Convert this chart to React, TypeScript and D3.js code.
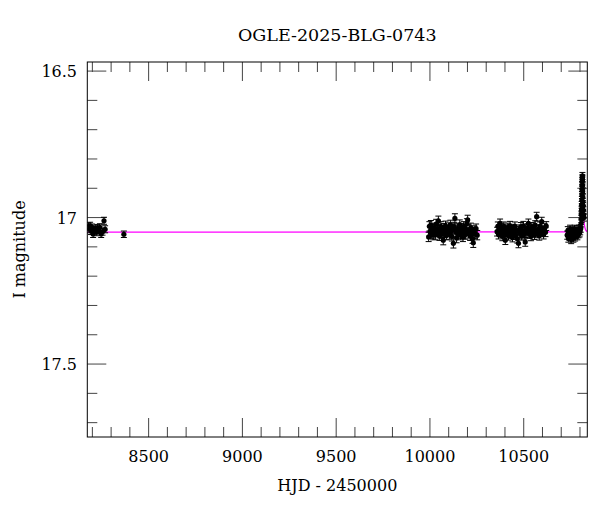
import * as d3 from 'd3';

// [HJD - 2450000, I mag, error]
const season2018: [number, number, number][] = [
  [8179, 17.03, 0.012], [8184, 17.04, 0.012], [8188, 17.028, 0.012], [8193, 17.046, 0.012],
  [8199, 17.034, 0.012], [8204, 17.056, 0.012], [8210, 17.042, 0.012], [8216, 17.038, 0.012],
  [8221, 17.05, 0.012], [8227, 17.036, 0.012], [8233, 17.044, 0.012], [8240, 17.033, 0.012],
  [8247, 17.056, 0.012], [8254, 17.048, 0.012], [8262, 17.011, 0.012], [8268, 17.04, 0.012],
  [8368, 17.057, 0.011],
];

const season2023: [number, number, number][] = [
  [9993, 17.066, 0.016], [9997, 17.03, 0.016], [10001, 17.048, 0.016], [10005, 17.026, 0.016],
  [10009, 17.055, 0.016], [10013, 17.04, 0.016], [10017, 17.06, 0.016], [10021, 17.035, 0.016],
  [10025, 17.045, 0.016], [10029, 17.058, 0.016], [10033, 17.022, 0.016], [10037, 17.05, 0.016],
  [10041, 17.038, 0.016], [10045, 17.011, 0.016], [10050, 17.062, 0.016], [10054, 17.044, 0.016],
  [10058, 17.03, 0.016], [10062, 17.055, 0.016], [10066, 17.048, 0.016], [10071, 17.077, 0.016],
  [10075, 17.036, 0.016], [10079, 17.052, 0.016], [10083, 17.028, 0.016], [10088, 17.06, 0.016],
  [10092, 17.042, 0.016], [10096, 17.05, 0.016], [10100, 17.034, 0.016], [10105, 17.058, 0.016],
  [10109, 17.025, 0.016], [10113, 17.046, 0.016], [10117, 17.064, 0.016], [10121, 17.04, 0.016],
  [10125, 17.088, 0.016], [10129, 17.032, 0.016], [10133, 17.003, 0.016], [10138, 17.05, 0.016],
  [10142, 17.07, 0.016], [10146, 17.038, 0.016], [10150, 17.056, 0.016], [10155, 17.044, 0.016],
  [10159, 17.024, 0.016], [10163, 17.06, 0.016], [10167, 17.036, 0.016], [10172, 17.05, 0.016],
  [10176, 17.066, 0.016], [10180, 17.03, 0.016], [10184, 17.046, 0.016], [10189, 17.058, 0.016],
  [10193, 17.04, 0.016], [10197, 17.02, 0.016], [10201, 17.008, 0.016], [10205, 17.054, 0.016],
  [10210, 17.042, 0.016], [10214, 17.062, 0.016], [10218, 17.035, 0.016], [10223, 17.05, 0.016],
  [10227, 17.072, 0.016], [10231, 17.086, 0.016], [10236, 17.044, 0.016], [10240, 17.056, 0.016],
  [10246, 17.038, 0.016], [10252, 17.06, 0.016],
];

const season2024: [number, number, number][] = [
  [10358, 17.048, 0.015], [10362, 17.03, 0.015], [10366, 17.058, 0.015], [10370, 17.04, 0.015],
  [10374, 17.02, 0.015], [10378, 17.052, 0.015], [10382, 17.036, 0.015], [10386, 17.064, 0.015],
  [10390, 17.044, 0.015], [10394, 17.03, 0.015], [10398, 17.055, 0.015], [10402, 17.077, 0.015],
  [10406, 17.04, 0.015], [10410, 17.05, 0.015], [10415, 17.034, 0.015], [10419, 17.062, 0.015],
  [10423, 17.046, 0.015], [10427, 17.028, 0.015], [10432, 17.056, 0.015], [10436, 17.042, 0.015],
  [10440, 17.068, 0.015], [10444, 17.038, 0.015], [10449, 17.05, 0.015], [10453, 17.03, 0.015],
  [10457, 17.06, 0.015], [10462, 17.045, 0.015], [10466, 17.072, 0.015], [10472, 17.088, 0.015],
  [10476, 17.04, 0.015], [10480, 17.054, 0.015], [10485, 17.032, 0.015], [10489, 17.062, 0.015],
  [10494, 17.046, 0.015], [10498, 17.028, 0.015], [10503, 17.058, 0.015], [10508, 17.083, 0.015],
  [10512, 17.04, 0.015], [10517, 17.052, 0.015], [10521, 17.036, 0.015], [10525, 17.02, 0.015],
  [10530, 17.056, 0.015], [10534, 17.044, 0.015], [10539, 17.064, 0.015], [10543, 17.032, 0.015],
  [10548, 17.05, 0.015], [10552, 17.038, 0.015], [10557, 17.06, 0.015], [10561, 17.026, 0.015],
  [10565, 17.048, 0.015], [10569, 16.997, 0.015], [10574, 17.054, 0.015], [10578, 17.04, 0.015],
  [10583, 17.062, 0.015], [10587, 17.03, 0.015], [10592, 17.05, 0.015], [10596, 17.014, 0.015],
  [10601, 17.044, 0.015], [10606, 17.058, 0.015], [10611, 17.036, 0.015], [10616, 17.05, 0.015],
  [10620, 17.029, 0.015],
];

const season2025: [number, number, number][] = [
  [10732, 17.06, 0.014], [10735, 17.045, 0.014], [10738, 17.07, 0.014], [10741, 17.052, 0.014],
  [10744, 17.064, 0.014], [10747, 17.04, 0.014], [10750, 17.058, 0.014], [10753, 17.075, 0.014],
  [10756, 17.048, 0.014], [10759, 17.062, 0.014], [10762, 17.044, 0.014], [10765, 17.07, 0.014],
  [10768, 17.055, 0.014], [10771, 17.04, 0.014], [10774, 17.066, 0.014], [10777, 17.05, 0.014],
  [10780, 17.058, 0.014], [10783, 17.042, 0.014], [10786, 17.062, 0.014], [10789, 17.048, 0.014],
  [10792, 17.055, 0.014], [10795, 17.04, 0.014], [10798, 17.052, 0.014], [10801, 17.045, 0.014],
  [10804, 17.037, 0.013], [10806, 17.02, 0.012], [10807, 16.99, 0.012], [10808, 17.005, 0.012],
  [10808.5, 16.975, 0.012], [10809, 16.957, 0.012], [10809.5, 16.97, 0.012], [10810, 16.94, 0.012],
  [10810.5, 16.923, 0.012], [10811, 16.905, 0.012], [10811.5, 16.89, 0.012], [10812, 16.875, 0.012],
  [10812.5, 16.866, 0.012], [10813, 16.858, 0.012], [10813.5, 16.87, 0.012], [10814, 16.89, 0.012],
  [10814.5, 16.91, 0.012], [10815, 16.93, 0.012], [10816, 16.946, 0.012], [10817, 16.96, 0.012],
  [10818, 16.975, 0.012], [10819, 16.99, 0.012], [10821, 17.0, 0.012],
];

// fitted model
const modelCurve: [number, number][] = [
  [8173, 17.05], [10780, 17.049], [10795, 17.042], [10802, 17.022], [10806, 16.99],
  [10809, 16.94], [10811, 16.895], [10812.5, 16.877], [10814, 16.895], [10816, 16.94],
  [10819, 16.99], [10823, 17.022], [10830, 17.042], [10839, 17.048],
];

const xMajor = [8500, 9000, 9500, 10000, 10500];
const yMajor = [16.5, 17, 17.5];

const W = 600;
const H = 512;
const margin = { top: 62, right: 12.7, bottom: 75, left: 87.3 };
const font = '"DejaVu Serif", serif';

export default function App() {
  const x = d3.scaleLinear().domain([8173, 10839]).range([margin.left, W - margin.right]);
  const y = d3.scaleLinear().domain([16.469, 17.749]).range([margin.top, H - margin.bottom]);

  const [x0, x1] = x.range();
  const [y0, y1] = y.range();

  const xMinor = d3.range(82, 109).map(v => v * 100).filter(v => !xMajor.includes(v));
  const yMinor = d3.range(165, 178).map(v => v / 10).filter(v => !yMajor.includes(v));

  const line = d3.line<[number, number]>()
    .x(d => x(d[0]))
    .y(d => y(d[1]))
    .curve(d3.curveMonotoneX);

  const points = [...season2018, ...season2023, ...season2024, ...season2025];
  const tickColor = '#444';

  return (
    <svg width={W} height={H} style={{ position: 'absolute', left: 0, top: 0, background: '#fff' }}>
      <defs>
        <clipPath id="plot">
          <rect x={x0} y={y0} width={x1 - x0} height={y1 - y0} />
        </clipPath>
      </defs>

      <text x={(x0 + x1) / 2} y={41} textAnchor="middle" fontFamily={font} fontSize={17.5}>
        OGLE-2025-BLG-0743
      </text>

      {/* ticks, inward on all sides */}
      <g stroke={tickColor} strokeWidth={1}>
        {xMajor.map(v => (
          <g key={'xM' + v}>
            <line x1={x(v)} x2={x(v)} y1={y1} y2={y1 - 19} />
            <line x1={x(v)} x2={x(v)} y1={y0} y2={y0 + 19} />
          </g>
        ))}
        {xMinor.map(v => (
          <g key={'xm' + v}>
            <line x1={x(v)} x2={x(v)} y1={y1} y2={y1 - 10} />
            <line x1={x(v)} x2={x(v)} y1={y0} y2={y0 + 10} />
          </g>
        ))}
        {yMajor.map(v => (
          <g key={'yM' + v}>
            <line x1={x0} x2={x0 + 19} y1={y(v)} y2={y(v)} />
            <line x1={x1} x2={x1 - 19} y1={y(v)} y2={y(v)} />
          </g>
        ))}
        {yMinor.map(v => (
          <g key={'ym' + v}>
            <line x1={x0} x2={x0 + 10} y1={y(v)} y2={y(v)} />
            <line x1={x1} x2={x1 - 10} y1={y(v)} y2={y(v)} />
          </g>
        ))}
      </g>

      <g fontFamily={font} fontSize={16} fill="#000">
        {xMajor.map(v => (
          <text key={'xl' + v} x={x(v)} y={462} textAnchor="middle">{v}</text>
        ))}
        {yMajor.map(v => (
          <text key={'yl' + v} x={77} y={y(v) + 6} textAnchor="end">{String(v)}</text>
        ))}
        <text x={(x0 + x1) / 2} y={491} textAnchor="middle">HJD - 2450000</text>
        <text transform={`translate(25, ${(y0 + y1) / 2}) rotate(-90)`} textAnchor="middle">
          I magnitude
        </text>
      </g>

      <g clipPath="url(#plot)">
        <path d={line(modelCurve) || ''} fill="none" stroke="#ff00ff" strokeWidth={1.2} />
        <g stroke="#000" strokeWidth={1}>
          {points.map((p, i) => {
            const px = x(p[0]);
            return (
              <g key={'e' + i}>
                <line x1={px} x2={px} y1={y(p[1] - p[2])} y2={y(p[1] + p[2])} />
                <line x1={px - 3} x2={px + 3} y1={y(p[1] - p[2])} y2={y(p[1] - p[2])} />
                <line x1={px - 3} x2={px + 3} y1={y(p[1] + p[2])} y2={y(p[1] + p[2])} />
              </g>
            );
          })}
        </g>
        <g fill="#000">
          {points.map((p, i) => (
            <circle key={'p' + i} cx={x(p[0])} cy={y(p[1])} r={2.6} />
          ))}
        </g>
      </g>

      <rect x={x0} y={y0} width={x1 - x0} height={y1 - y0} fill="none" stroke="#000" strokeWidth={1} />
    </svg>
  );
}
